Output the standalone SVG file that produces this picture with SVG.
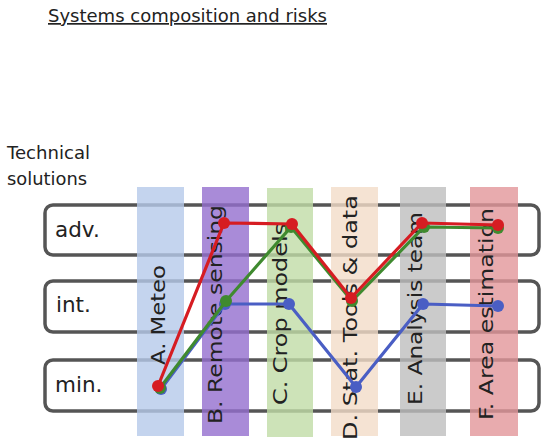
<svg xmlns="http://www.w3.org/2000/svg" width="541" height="445" viewBox="0 0 541 445">
<style>
text{font-family:"DejaVu Sans","Liberation Sans",sans-serif;fill:#222}
.row{fill:#fff;stroke:#555;stroke-width:3.5}
.col{opacity:.8}
.lab{font-size:21.5px}
.cl{font-size:20px}
.ln{fill:none;stroke-width:3.2;stroke-linejoin:round}
</style>
<rect width="541" height="445" fill="#fff"/>
<text id="title" x="48" y="22" font-size="17" text-decoration="underline" textLength="279" lengthAdjust="spacingAndGlyphs">Systems composition and risks</text>
<g id="axis-title"><text x="7" y="159" font-size="17.5" textLength="83" lengthAdjust="spacingAndGlyphs">Technical</text><text x="7" y="185" font-size="17.5" textLength="80" lengthAdjust="spacingAndGlyphs">solutions</text></g>
<g id="row-adv"><rect class="row" x="45" y="205" width="494" height="50" rx="8"/><text class="lab" x="55" y="237">adv.</text></g>
<g id="row-int"><rect class="row" x="45" y="281" width="494" height="51" rx="8"/><text class="lab" x="56" y="312">int.</text></g>
<g id="row-min"><rect class="row" x="45" y="360" width="494" height="51" rx="8"/><text class="lab" x="55" y="392">min.</text></g>
<g id="col-A"><rect class="col" x="137" y="187" width="47" height="249" fill="#b5c9ea"/><text class="cl" transform="translate(165,365) rotate(-90)" textLength="100" lengthAdjust="spacingAndGlyphs">A. Meteo</text></g>
<g id="col-B"><rect class="col" x="202" y="187" width="47" height="249" fill="#946ece"/><text class="cl" transform="translate(222,424) rotate(-90)" textLength="219" lengthAdjust="spacingAndGlyphs">B. Remote sensing</text></g>
<g id="col-C"><rect class="col" x="267" y="188" width="46" height="249" fill="#c0dca6"/><text class="cl" transform="translate(287,405) rotate(-90)" textLength="182" lengthAdjust="spacingAndGlyphs">C. Crop models</text></g>
<g id="col-D"><rect class="col" x="331" y="187" width="47" height="249" fill="#f2dcc8"/><text class="cl" transform="translate(357,440) rotate(-90)" textLength="245" lengthAdjust="spacingAndGlyphs">D. Stat. Tools &amp; data</text></g>
<g id="col-E"><rect class="col" x="400" y="187" width="46" height="249" fill="#bebebe"/><text class="cl" transform="translate(422,405) rotate(-90)" textLength="193" lengthAdjust="spacingAndGlyphs">E. Analysis team</text></g>
<g id="col-F"><rect class="col" x="470" y="187" width="48" height="249" fill="#e2969a"/><text class="cl" transform="translate(493,420) rotate(-90)" textLength="212" lengthAdjust="spacingAndGlyphs">F. Area estimation</text></g>
<g id="connectors">
<g id="series-blue" fill="#4a5ec4"><polyline class="ln" stroke="#4a5ec4" points="161,389 225,304 289,304 356,387 423,304 498,306"/><circle cx="161" cy="389" r="6"/><circle cx="225" cy="304" r="6"/><circle cx="289" cy="304" r="6"/><circle cx="356" cy="387" r="6"/><circle cx="423" cy="304" r="6"/><circle cx="498" cy="306" r="6"/></g>
<g id="series-green" fill="#3f8a2f"><polyline class="ln" stroke="#3f8a2f" points="160,388 226,301 291,227 352,301 424,227 498,228"/><circle cx="160" cy="388" r="6"/><circle cx="226" cy="301" r="6"/><circle cx="291" cy="227" r="6"/><circle cx="352" cy="301" r="6"/><circle cx="424" cy="227" r="6"/><circle cx="498" cy="228" r="6"/></g>
<g id="series-red" fill="#d61c22"><polyline class="ln" stroke="#d61c22" points="158,386 224,223 292,224 351,298 422,223 498,225"/><circle cx="158" cy="386" r="6"/><circle cx="224" cy="223" r="6"/><circle cx="292" cy="224" r="6"/><circle cx="351" cy="298" r="6"/><circle cx="422" cy="223" r="6"/><circle cx="498" cy="225" r="6"/></g>
</g>
</svg>
